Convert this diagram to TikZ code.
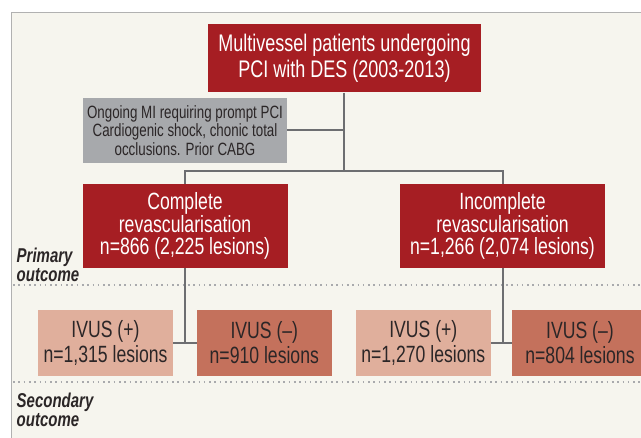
\documentclass[tikz,border=0pt]{standalone}
\usepackage{fontspec}
\setmainfont{Liberation Sans}[FakeStretch=0.75]
\definecolor{darkred}{HTML}{A61E23}
\definecolor{ivplus}{HTML}{E0AF9C}
\definecolor{ivminus}{HTML}{C4715C}
\definecolor{greybox}{HTML}{A7A9AC}
\definecolor{panelbg}{HTML}{F6F5EE}
\definecolor{connector}{HTML}{6D6E71}
\definecolor{panelborder}{HTML}{B1B1B1}
\definecolor{dotcol}{HTML}{A9AAAD}
\definecolor{textdark}{HTML}{2B2627}
\tikzset{
  box/.style={rectangle, inner sep=0pt, align=center},
  redbox/.style={box, fill=darkred, text=white},
  toptext/.style={font=\fontsize{24}{26}\selectfont},
  midtext/.style={font=\fontsize{23.5}{21.3}\selectfont},
  greytext/.style={font=\fontsize{17.8}{18.3}\selectfont},
  ivtext/.style={font=\fontsize{23.5}{25}\selectfont},
  link/.style={draw=connector, line width=2pt},
  sepline/.style={draw=dotcol, line width=2pt, dash pattern=on 1.6pt off 3.7pt},
  outlabel/.style={anchor=west, align=left, inner sep=0pt, text=textdark,
    font=\fontsize{20}{19}\selectfont\bfseries\itshape}
}
\begin{document}
\begin{tikzpicture}[x=1pt,y=-1pt]
\useasboundingbox (0,0) rectangle (641,438);
\clip (0,0) rectangle (641,438);
\fill[white] (0,0) rectangle (641,438);
\fill[panelbg] (11.7,12.7) rectangle (645,442);
\draw[panelborder, line width=1.5pt] (11.7,442) -- (11.7,12.7) -- (645,12.7);

% separators
\coordinate (s1l) at (13,285.5); \coordinate (s1r) at (645,285.5);
\coordinate (s2l) at (13,381.7); \coordinate (s2r) at (645,381.7);
\draw[sepline] (s1l) -- (s1r);
\draw[sepline] (s2l) -- (s2r);

% boxes
\node[redbox, toptext, minimum width=273pt, minimum height=68.3pt] (top) at (344.5,58.2)
  {Multivessel patients undergoing\\PCI with DES (2003-2013)};
\node[box, fill=greybox, text=textdark, greytext, minimum width=204pt, minimum height=65pt] (excl) at (185,130.5)
  {Ongoing MI requiring prompt PCI\\Cardiogenic shock, chonic total\\occlusions. Prior CABG};
\node[redbox, midtext, minimum width=205pt, minimum height=83.7pt] (comp) at (185,225.85)
  {Complete\\revascularisation\\n=866 (2,225 lesions)};
\node[redbox, midtext, minimum width=205pt, minimum height=83.7pt] (inc) at (502.5,225.85)
  {Incomplete\\revascularisation\\n=1,266 (2,074 lesions)};

\node[box, fill=ivplus, text=textdark, ivtext, minimum width=135pt, minimum height=65.7pt] (cp) at (105.5,342.85)
  {IVUS (+)\\n=1,315 lesions};
\node[box, fill=ivminus, text=textdark, ivtext, minimum width=134.6pt, minimum height=65.7pt] (cm) at (264.3,342.85)
  {IVUS (--)\\n=910 lesions};
\node[box, fill=ivplus, text=textdark, ivtext, minimum width=134.6pt, minimum height=65.7pt] (ip) at (423.3,342.85)
  {IVUS (+)\\n=1,270 lesions};
\node[box, fill=ivminus, text=textdark, ivtext, minimum width=136pt, minimum height=65.7pt] (im) at (580,342.85)
  {IVUS (--)\\n=804 lesions};

% outcome labels
\node[outlabel] (prim) at (16.5,264.5) {Primary\\outcome};
\node[outlabel] (sec) at (16.5,410) {Secondary\\outcome};

% connectors
\coordinate (bar) at (344,171);
\draw[link] (top.south -| bar) -- (bar);
\draw[link] (excl.east) -- (excl.east -| bar);
\draw[link] (comp.north) |- (bar) -| (inc.north);
\draw[link] (comp.south) -- (comp.south |- cp.east);
\draw[link] (cp.east) -- (cm.west);
\draw[link] (inc.south) -- (inc.south |- ip.east);
\draw[link] (ip.east) -- (im.west);
\end{tikzpicture}
\end{document}
